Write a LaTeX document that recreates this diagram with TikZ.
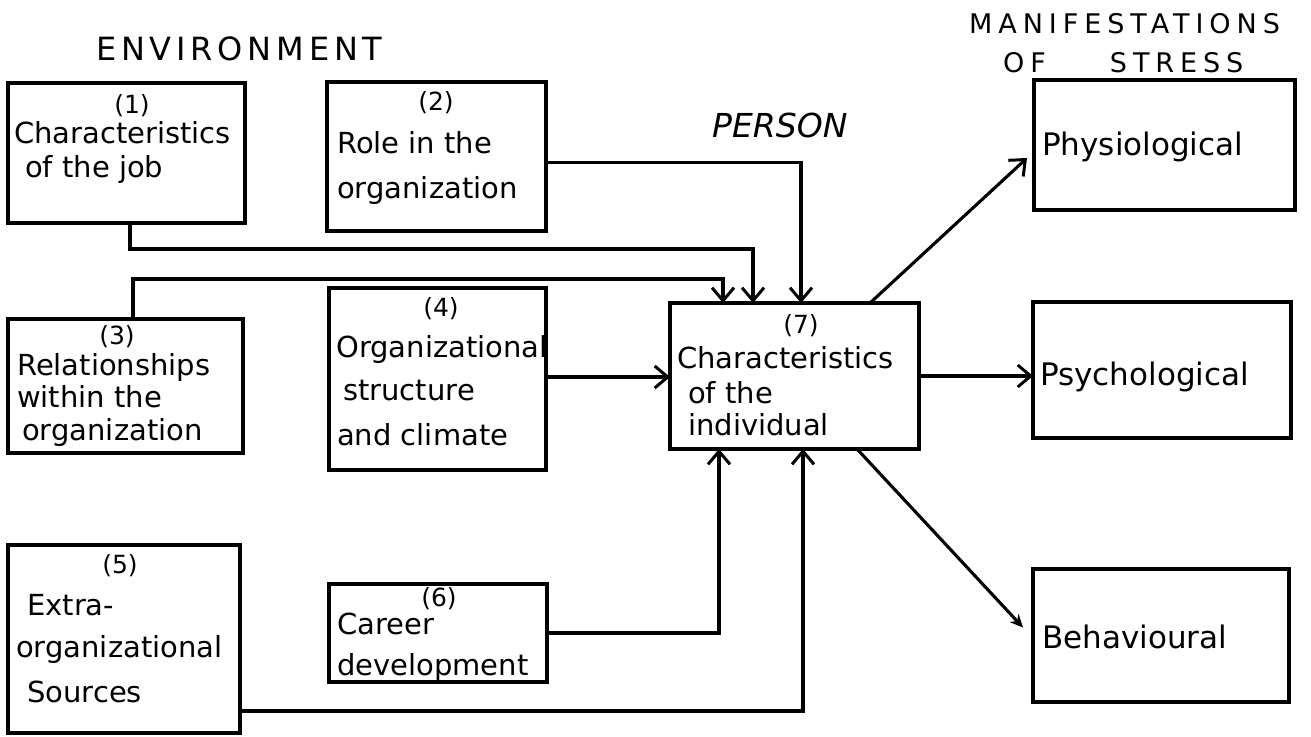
\documentclass[tikz,border=0pt]{standalone}
\usepackage{fontspec}
\setmainfont{DejaVu Sans}
\newfontfamily\headfont[LetterSpace=15]{DejaVu Sans}
\newfontfamily\manifont[LetterSpace=22]{DejaVu Sans}
\usetikzlibrary{arrows.meta,calc}
\begin{document}
\begin{tikzpicture}[x=1pt,y=-1pt,
  box/.style={draw, line width=3.2pt, inner sep=0pt, outer sep=0pt, anchor=north west},
  link/.style={line width=3.1pt, line join=miter},
  tip/.style={-{Straight Barb[length=13pt,width=22pt,line width=3pt]}},
  txt/.style={anchor=base west, inner sep=0pt, font=\fontsize{29}{34}\selectfont},
  num/.style={anchor=base, inner sep=0pt, font=\fontsize{25}{30}\selectfont},
  outtxt/.style={anchor=base west, inner sep=0pt, font=\fontsize{31}{36}\selectfont},
  head/.style={anchor=base west, inner sep=0pt}]
\path[use as bounding box, fill=white] (0,0) rectangle (1311,736);

% headings
\node[head, font=\headfont\fontsize{32}{38}\selectfont] (henv) at (96,60) {ENVIRONMENT};
\node[head, font=\itshape\fontsize{33}{38}\selectfont] (hper) at (712,137) {PERSON};
\node[head, font=\manifont\fontsize{27}{32}\selectfont] (hman) at (969,33) {MANIFESTATIONS};
\node[head, font=\manifont\fontsize{27}{32}\selectfont] (hstr) at (1003,72) {OF\hspace*{64pt}STRESS};

% environment boxes
\node[box, minimum width=237pt, minimum height=140pt] (b1) at (8,83) {};
\node[box, minimum width=219pt, minimum height=149pt] (b2) at (327,82) {};
\node[box, minimum width=235pt, minimum height=134pt] (b3) at (8,319) {};
\node[box, minimum width=217pt, minimum height=182pt] (b4) at (329,288) {};
\node[box, minimum width=232pt, minimum height=188pt] (b5) at (8,545) {};
\node[box, minimum width=218pt, minimum height=98pt]  (b6) at (329,584) {};
% person
\node[box, minimum width=249pt, minimum height=146pt] (b7) at (670,303) {};
% manifestations
\node[box, minimum width=261pt, minimum height=130pt] (p1) at (1034,80) {};
\node[box, minimum width=258pt, minimum height=136pt] (p2) at (1033,302) {};
\node[box, minimum width=256pt, minimum height=133pt] (p3) at (1033,569) {};

% box texts
\node[num] (n1) at (132,113) {(1)};
\node[txt] (t1a) at (14,143) {Characteristics};
\node[txt] (t1b) at (25,177) {of the job};

\node[num] (n2) at (436,110) {(2)};
\node[txt] (t2a) at (337,153) {Role in the};
\node[txt] (t2b) at (337,198) {organization};

\node[num] (n3) at (117,344) {(3)};
\node[txt] (t3a) at (17,375) {Relationships};
\node[txt] (t3b) at (17,407) {within the};
\node[txt] (t3c) at (22,440) {organization};

\node[num] (n4) at (441,316) {(4)};
\node[txt] (t4a) at (336,357) {Organizational};
\node[txt] (t4b) at (343,400) {structure};
\node[txt] (t4c) at (337,445) {and climate};

\node[num] (n5) at (120,573) {(5)};
\node[txt] (t5a) at (27,615) {Extra-};
\node[txt] (t5b) at (16,657) {organizational};
\node[txt] (t5c) at (27,702) {Sources};

\node[num] (n6) at (439,606) {(6)};
\node[txt] (t6a) at (337,634) {Career};
\node[txt] (t6b) at (337,675) {development};

\node[num] (n7) at (801,333) {(7)};
\node[txt] (t7a) at (677,368) {Characteristics};
\node[txt] (t7b) at (688,403) {of the};
\node[txt] (t7c) at (688,435) {individual};

\node[outtxt] (o1) at (1042,155) {Physiological};
\node[outtxt] (o2) at (1040,385) {Psychological};
\node[outtxt] (o3) at (1042,648) {Behavioural};

% stressors into the individual
\draw[link,tip] ([xshift=122pt]b1.south west) -- ++(0,26) -| ([xshift=83pt]b7.north west);
\draw[link,tip] ([xshift=125pt]b3.north west) -- ++(0,-40) -| ([xshift=53pt]b7.north west);
\draw[link,tip] ([yshift=-6pt]b2.east) -| ([xshift=131pt]b7.north west);
\draw[link,tip] ([yshift=2pt]b4.east) -- ([yshift=2pt]b4.east -| b7.west);
\draw[link,tip] (b6.east) -| ([xshift=49pt]b7.south west);
\draw[link,tip] ([yshift=-72pt]b5.east) -| ([xshift=133pt]b7.south west);

% individual to manifestations
\draw[link,tip] ([xshift=200pt]b7.north west) -- ([xshift=-7pt,yshift=-13pt]p1.west);
\draw[link,tip] (b7.east) -- (b7.east -| p2.west);
\draw[link,-{Stealth[length=13pt,width=12pt]}] ([xshift=187pt]b7.south west) -- ([xshift=-10pt,yshift=8pt]p3.west);
\end{tikzpicture}
\end{document}
